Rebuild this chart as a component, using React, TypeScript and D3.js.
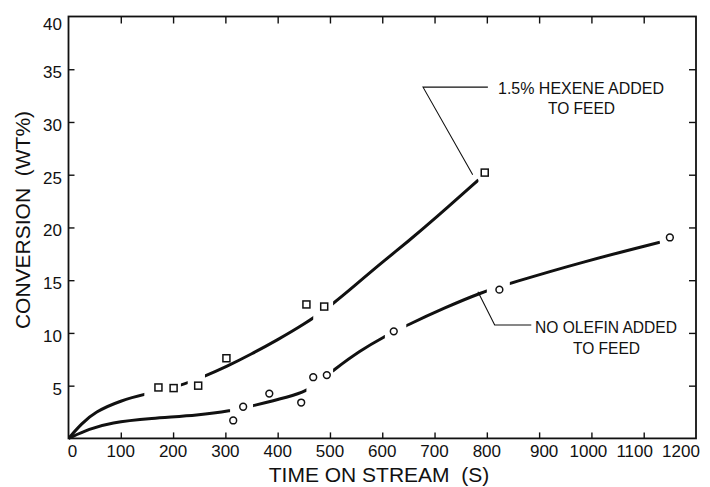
import React, { useEffect, useRef } from 'react';
import * as d3 from 'd3';

// measured points (time s, conversion wt%)
const hexeneTime = [172, 201, 248, 302, 455, 489, 796];
const hexeneConv = [4.83, 4.77, 5.0, 7.6, 12.7, 12.5, 25.2];
const noOlefinTime = [315, 334, 384, 445, 468, 494, 622, 824, 1150];
const noOlefinConv = [1.7, 3.0, 4.25, 3.4, 5.8, 6.0, 10.15, 14.1, 19.05];

// hand drawn trend curves
const hexeneFitTime = [0, 25, 50, 100, 150, 200, 261, 302, 350, 400, 450, 500, 550, 600, 650, 700, 784];
const hexeneFitConv = [0, 1.4, 2.5, 3.6, 4.25, 4.75, 5.9, 6.8, 8.0, 9.35, 10.8, 12.5, 14.6, 16.7, 18.7, 20.8, 24.5];
const noOlefinFitTime = [0, 40, 80, 156, 251, 309, 353, 423, 455, 480, 506, 557, 602, 646, 720, 793, 844, 984, 1131];
const noOlefinFitConv = [0, 0.9, 1.5, 1.9, 2.2, 2.6, 3.1, 3.95, 4.5, 5.4, 6.45, 8.3, 9.6, 10.7, 12.4, 13.9, 14.7, 16.75, 18.6];

// visible pieces of each curve (the line is broken around the markers)
const hexeneSegments = [[0, 145], [215, 228], [261, 468], [506, 784]];
const noOlefinSegments = [[0, 309], [353, 455], [506, 605], [646, 800], [844, 1131]];

const xTickValues = [0, 100, 200, 300, 400, 500, 600, 700, 800, 900, 1000, 1100, 1200];
const yTickValues = [5, 10, 15, 20, 25, 30, 35, 40];

const FONT = "'Liberation Sans', Arial, Helvetica, sans-serif";

export default function App() {
  const ref = useRef<SVGSVGElement>(null);

  useEffect(() => {
    const w = 710;
    const h = 487;
    const svg = d3.select(ref.current);
    svg.selectAll('*').remove();

    const xScale = d3.scaleLinear().domain([0, 1200]).range([68.5, 696]);
    const yScale = d3.scaleLinear().domain([0, 40]).range([438.4, 16.5]);

    svg.append('rect').attr('width', w).attr('height', h).attr('fill', '#fff');

    // ticks all point inward, labels done by hand below
    const inner = [100, 200, 300, 400, 500, 600, 700, 800, 900, 1000, 1100];
    const yInner = [5, 10, 15, 20, 25, 30, 35];
    const axes = [
      { ax: d3.axisBottom(xScale).tickValues(inner).tickSize(-6), t: `translate(0,${yScale(0)})` },
      { ax: d3.axisTop(xScale).tickValues(inner).tickSize(-7), t: `translate(0,${yScale(40)})` },
      { ax: d3.axisLeft(yScale).tickValues(yInner).tickSize(-6), t: `translate(${xScale(0)},0)` },
      { ax: d3.axisRight(yScale).tickValues(yInner).tickSize(-7), t: `translate(${xScale(1200)},0)` },
    ];
    axes.forEach(a => {
      const g = svg.append('g').attr('transform', a.t).call(a.ax.tickFormat(() => ''));
      g.select('.domain').remove();
      g.selectAll('line').attr('stroke', '#111').attr('stroke-width', 1.4);
    });

    svg.append('rect')
      .attr('x', xScale(0)).attr('y', yScale(40))
      .attr('width', xScale(1200) - xScale(0)).attr('height', yScale(0) - yScale(40))
      .attr('fill', 'none').attr('stroke', '#111').attr('stroke-width', 1.8);

    // tick labels
    const xNudge: Record<number, number> = { 0: 4, 900: 5, 1000: -3, 1100: -9, 1200: -15 };
    svg.append('g').selectAll('text').data(xTickValues).enter().append('text')
      .attr('x', d => xScale(d) + (xNudge[d] || 0))
      .attr('y', 457)
      .attr('text-anchor', 'middle')
      .attr('font-family', FONT).attr('font-size', 17)
      .attr('fill', '#111')
      .text(d => d);

    svg.append('g').selectAll('text').data(yTickValues).enter().append('text')
      .attr('x', 62)
      .attr('y', d => yScale(d) + (d === 40 ? 13 : 9))
      .attr('text-anchor', 'end')
      .attr('font-family', FONT).attr('font-size', 17)
      .attr('fill', '#111')
      .text(d => d);

    // axis titles
    svg.append('text')
      .attr('x', 379).attr('y', 482)
      .attr('text-anchor', 'middle')
      .attr('font-family', FONT).attr('font-size', 21)
      .attr('fill', '#111')
      .style('white-space', 'pre')
      .text('TIME ON STREAM  (S)');

    svg.append('text')
      .attr('transform', 'translate(30,220) rotate(-90)')
      .attr('text-anchor', 'middle')
      .attr('font-family', FONT).attr('font-size', 21)
      .attr('fill', '#111')
      .style('white-space', 'pre')
      .text('CONVERSION  (WT%)');

    // curves, clipped into the visible pieces
    const line = d3.line<[number, number]>()
      .x(d => xScale(d[0]))
      .y(d => yScale(d[1]))
      .curve(d3.curveBasis);

    const defs = svg.append('defs');
    const drawCurve = (name: string, ts: number[], cs: number[], segs: number[][]) => {
      const pts = ts.map((t, i) => [t, cs[i]] as [number, number]);
      segs.forEach((s, i) => {
        const id = `${name}-clip-${i}`;
        defs.append('clipPath').attr('id', id).append('rect')
          .attr('x', xScale(s[0])).attr('y', 0)
          .attr('width', xScale(s[1]) - xScale(s[0])).attr('height', h);
        svg.append('path')
          .attr('d', line(pts))
          .attr('fill', 'none')
          .attr('stroke', '#111')
          .attr('stroke-width', 3)
          .attr('clip-path', `url(#${id})`);
      });
    };
    drawCurve('hex', hexeneFitTime, hexeneFitConv, hexeneSegments);
    drawCurve('nool', noOlefinFitTime, noOlefinFitConv, noOlefinSegments);

    // markers
    svg.append('g').selectAll('rect').data(hexeneTime).enter().append('rect')
      .attr('x', (d) => xScale(d) - 3.5)
      .attr('y', (d, i) => yScale(hexeneConv[i]) - 3.5)
      .attr('width', 7).attr('height', 7)
      .attr('fill', '#fff').attr('stroke', '#111').attr('stroke-width', 1.5);

    svg.append('g').selectAll('circle').data(noOlefinTime).enter().append('circle')
      .attr('cx', d => xScale(d))
      .attr('cy', (d, i) => yScale(noOlefinConv[i]))
      .attr('r', 3.4)
      .attr('fill', '#fff').attr('stroke', '#111').attr('stroke-width', 1.5);

    // callouts
    const leader = d3.line<[number, number]>().x(d => xScale(d[0])).y(d => yScale(d[1]));
    svg.append('path')
      .attr('d', leader([[773, 25.0], [678, 33.3], [802, 33.3]]))
      .attr('fill', 'none').attr('stroke', '#111').attr('stroke-width', 1.1);
    svg.append('path')
      .attr('d', leader([[783, 13.9], [815, 10.75], [885, 10.75]]))
      .attr('fill', 'none').attr('stroke', '#111').attr('stroke-width', 1.1);

    const label = (txt: string, x: number, y: number, len: number, anchor: string) => {
      svg.append('text')
        .attr('x', x).attr('y', y)
        .attr('text-anchor', anchor)
        .attr('font-family', FONT).attr('font-size', 16)
        .attr('fill', '#111')
        .attr('textLength', len)
        .attr('lengthAdjust', 'spacingAndGlyphs')
        .text(txt);
    };
    label('1.5% HEXENE ADDED', 498, 94, 166, 'start');
    label('TO FEED', 548, 114, 67, 'start');
    label('NO OLEFIN ADDED', 535, 333, 142, 'start');
    label('TO FEED', 573, 354, 67, 'start');
  }, []);

  return (
    <svg ref={ref} width={710} height={487}
      style={{ position: 'absolute', left: 0, top: 0 }} />
  );
}
